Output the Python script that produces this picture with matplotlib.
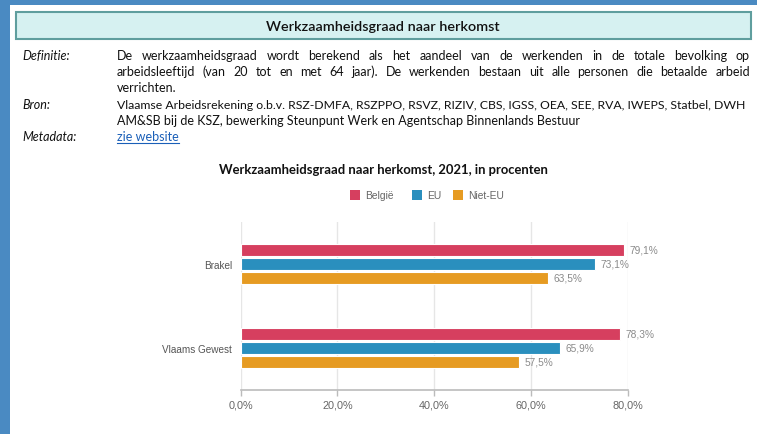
import matplotlib
matplotlib.use('Agg')
import matplotlib.pyplot as plt
from matplotlib.patches import Rectangle
from matplotlib.lines import Line2D
import numpy as np

# ---------------- data ----------------
categories = ['Brakel', 'Vlaams Gewest']
series = ['België', 'EU', 'Niet-EU']
belgie = [79.1, 78.3]
eu = [73.1, 65.9]
niet_eu = [63.5, 57.5]
xticks = [0, 20, 40, 60, 80]
xticklabels = ['0,0%', '20,0%', '40,0%', '60,0%', '80,0%']

header_title = 'Werkzaamheidsgraad naar herkomst'
chart_title = 'Werkzaamheidsgraad naar herkomst, 2021, in procenten'
def_lines = ['De werkzaamheidsgraad wordt berekend als het aandeel van de werkenden in de totale bevolking op',
             'arbeidsleeftijd (van 20 tot en met 64 jaar). De werkenden bestaan uit alle personen die betaalde arbeid',
             'verrichten.']
bron_lines = ['Vlaamse Arbeidsrekening o.b.v. RSZ-DMFA, RSZPPO, RSVZ, RIZIV, CBS, IGSS, OEA, SEE, RVA, IWEPS, Statbel, DWH',
              'AM&SB bij de KSZ, bewerking Steunpunt Werk en Agentschap Binnenlands Bestuur']
link_text = 'zie website'

colors = ['#d63f5f', '#2a8fbe', '#e69b22']

W, H = 757, 435
fig = plt.figure(figsize=(W / 100, H / 100), dpi=100)
fig.patch.set_facecolor('white')
R = fig.canvas.get_renderer()

def fx(x):
    return x / W

def fy(y):
    return 1 - y / H

def measure(text, fs, **kw):
    t = fig.text(0, 0, text, fontsize=fs, **kw)
    w = t.get_window_extent(R).width
    t.remove()
    return w

def fit(text, target, **kw):
    return 10 * target / measure(text, 10, **kw)

# ---------------- frame ----------------
fig.patches.append(Rectangle((0, fy(6)), 1, 6 / H, transform=fig.transFigure,
                             facecolor='#4a8ac2', edgecolor='none', zorder=0))
fig.patches.append(Rectangle((0, 0), 10 / W, 1, transform=fig.transFigure,
                             facecolor='#4a8ac2', edgecolor='none', zorder=0))
fig.patches.append(Rectangle((fx(16), fy(40)), (751 - 16) / W, 27 / H, transform=fig.transFigure,
                             facecolor='#d6f1f1', edgecolor='#5f9e9e', linewidth=1.5, zorder=1))

BODY = dict(family=['Lato', 'DejaVu Sans'], color='#111111')
fs_h = fit(header_title, 235, family=['Lato', 'DejaVu Sans'], weight='semibold')
fig.text(fx(383), fy(27), header_title, ha='center', va='center', fontsize=fs_h,
         family=['Lato', 'DejaVu Sans'], weight='semibold', color='#111111')

fs_b = fit(bron_lines[1], 464, **BODY)

def justify(line, x0, x1, ybase, fs):
    words = line.split(' ')
    ws = [measure(w, fs, **BODY) for w in words]
    gap = (x1 - x0 - sum(ws)) / (len(words) - 1)
    x = x0
    for w, wd in zip(words, ws):
        fig.text(fx(x), fy(ybase), w, ha='left', va='baseline', fontsize=fs, **BODY)
        x += wd + gap

def plain(line, x0, ybase, fs=None, **extra):
    kw = dict(BODY)
    kw.update(extra)
    return fig.text(fx(x0), fy(ybase), line, ha='left', va='baseline',
                    fontsize=fs if fs else fs_b, **kw)

LBL = dict(style='italic')
plain('Definitie:', 22, 60, **LBL)
justify(def_lines[0], 117, 750, 60, fs_b)
justify(def_lines[1], 117, 750, 76, fs_b)
plain(def_lines[2], 117, 92)
plain('Bron:', 22, 109, **LBL)
fs_b0 = min(fs_b, fit(bron_lines[0], 626, **BODY))
plain(bron_lines[0], 117, 109, fs=fs_b0)
plain(bron_lines[1], 117, 125)
plain('Metadata:', 22, 141, **LBL)
lt = plain(link_text, 117, 141, color='#1a5fb8')
lw_ = lt.get_window_extent(R).width
fig.lines.append(Line2D([fx(117), fx(117 + lw_)], [fy(143.5), fy(143.5)], transform=fig.transFigure,
                        color='#1a5fb8', linewidth=0.8))

# ---------------- chart ----------------
fs_t = fit(chart_title, 328, family=['Lato', 'DejaVu Sans'], weight='bold')
fig.text(fx(383), fy(170), chart_title, ha='center', va='center', fontsize=fs_t,
         family=['Lato', 'DejaVu Sans'], weight='bold', color='#111111')

SANS = ['Liberation Sans', 'DejaVu Sans']
leg_sq_x = [350, 411.5, 453]
for name, c, sx in zip(series, colors, leg_sq_x):
    fig.patches.append(Rectangle((fx(sx), fy(201)), 10 / W, 10 / H, transform=fig.transFigure,
                                 facecolor=c, edgecolor='none'))
    fig.text(fx(sx + 15.5), fy(196), name, ha='left', va='center', fontsize=7.4,
             family=SANS, color='#666666')

ax = fig.add_axes([fx(240.5), fy(391), (628 - 240.5) / W, (391 - 223) / H])
y = np.arange(len(categories))
bar_h = 12.5 / 84
offs = [-14 / 84, 0, 14 / 84]
for vals, c, o in zip([belgie, eu, niet_eu], colors, offs):
    bars = ax.barh(y + o, vals, height=bar_h, color=c, edgecolor='white', linewidth=0.8, zorder=3)
    for b, v in zip(bars, vals):
        ax.annotate(f'{v:.1f}%'.replace('.', ','), (v, b.get_y() + b.get_height() / 2),
                    xytext=(4.2, 0), textcoords='offset points', ha='left', va='center',
                    fontsize=7.3, family=SANS, color='#8a8a8a')

ax.set_xlim(0, 80)
ax.set_ylim(len(categories) - 0.5, -0.5)
ax.set_xticks(xticks)
ax.set_xticklabels(xticklabels)
ax.set_yticks(y)
ax.set_yticklabels(categories)
ax.grid(axis='x', color='#e6e6e6', linewidth=1, zorder=0)
for s in ['top', 'right', 'left']:
    ax.spines[s].set_visible(False)
ax.spines['bottom'].set_color('#bbbbbb')
ax.spines['bottom'].set_linewidth(1.2)
ax.tick_params(axis='x', length=4, width=1, color='#bbbbbb', labelsize=7.8,
               labelcolor='#666666', pad=3)
ax.tick_params(axis='y', length=0, labelsize=7.2, labelcolor='#555555', pad=6)
for t in ax.get_xticklabels() + ax.get_yticklabels():
    t.set_family(SANS)
ax.set_facecolor('none')

fig.savefig('out.png', dpi=100, facecolor='white')
